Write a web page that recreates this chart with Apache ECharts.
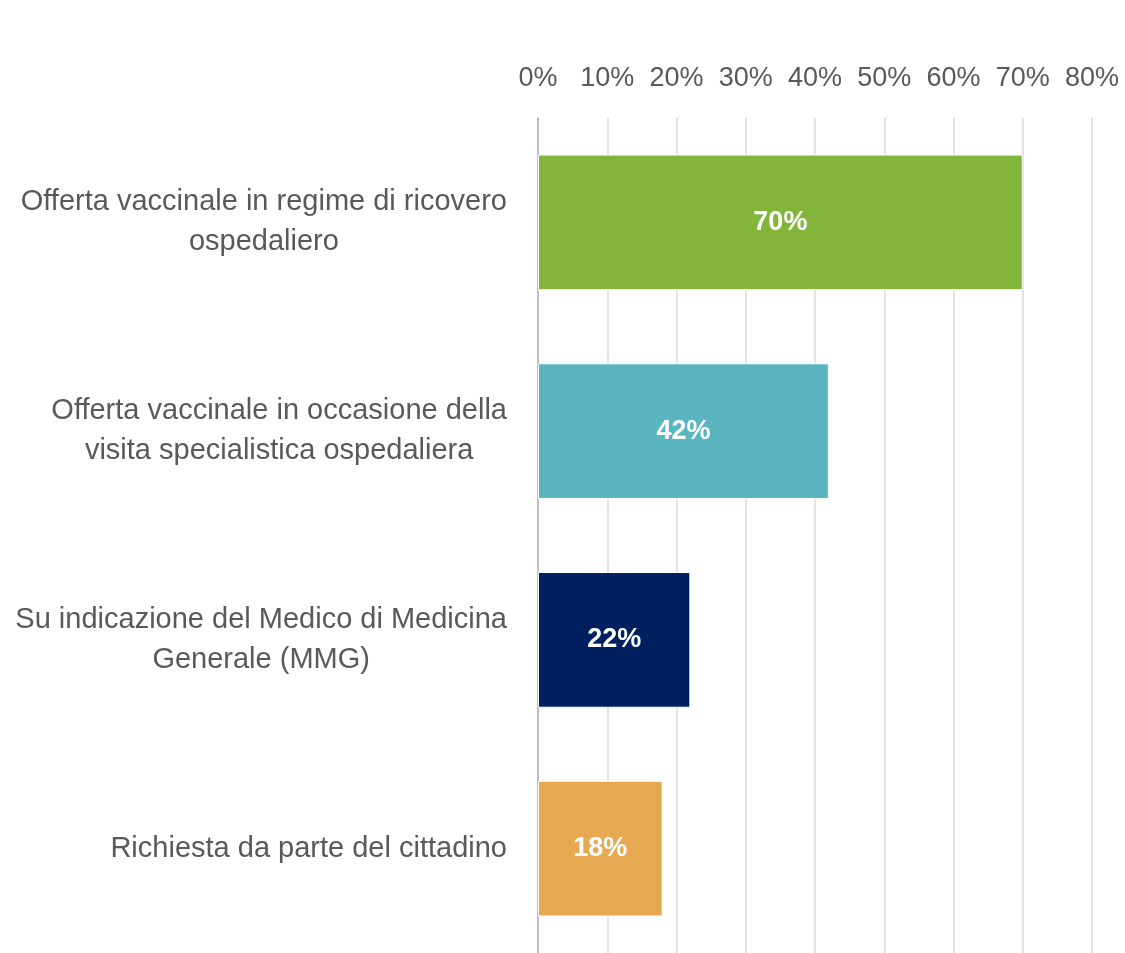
<!DOCTYPE html>
<html style="height:100%;">
<head>
  <meta charset="utf-8">
  <script src="https://cdn.jsdelivr.net/npm/echarts@6/dist/echarts.min.js"></script>
</head>
<body style="margin:0;height:100%;background:#fff;">
  <div id="chart" style="width:1125px;height:953px;"></div>
  <script>
    // categories, top to bottom
    const categories = [
      'Offerta vaccinale in regime di ricovero\nospedaliero',
      'Offerta vaccinale in occasione della\nvisita specialistica ospedaliera',
      'Su indicazione del Medico di Medicina\nGenerale (MMG)',
      'Richiesta da parte del cittadino'
    ];
    const values = [70, 42, 22, 18];
    const colors = ['#84b53b', '#5ab5c0', '#002060', '#e6a951'];

    const chart = echarts.init(document.getElementById('chart'));
    const font = 'Liberation Sans, Arial, sans-serif';

    chart.setOption({
      animation: false,
      grid: { left: 538, right: 33, top: 118, bottom: 0, containLabel: false },
      xAxis: {
        type: 'value',
        position: 'top',
        min: 0,
        max: 80,
        interval: 10,
        axisLine: { show: false },
        axisTick: { show: false },
        axisLabel: {
          formatter: '{value}%',
          color: '#595959',
          fontSize: 27,
          fontFamily: font,
          margin: 26
        },
        splitLine: { lineStyle: { color: '#e3e3e3', width: 2 } }
      },
      yAxis: {
        type: 'category',
        inverse: true,
        data: categories,
        axisLine: { show: true, lineStyle: { color: '#bfbfbf', width: 2 } },
        axisTick: { show: false },
        axisLabel: {
          // block sits right of the axis, lines centred inside the block
          formatter: v => v.split('\n').map(s => '{c|' + s + '}').join('\n'),
          align: 'right',
          margin: 31,
          rich: {
            c: {
              align: 'center',
              color: '#595959',
              fontSize: 29,
              fontFamily: font,
              lineHeight: 40
            }
          }
        }
      },
      series: [{
        type: 'bar',
        barCategoryGap: '35%',
        data: values.map((v, i) => ({ value: v, itemStyle: { color: colors[i] } })),
        itemStyle: { borderColor: '#ffffff', borderWidth: 1 },
        label: {
          show: true,
          position: 'inside',
          formatter: '{c}%',
          color: '#ffffff',
          fontWeight: 'bold',
          fontSize: 27,
          fontFamily: font
        }
      }]
    });
  </script>
</body>
</html>
